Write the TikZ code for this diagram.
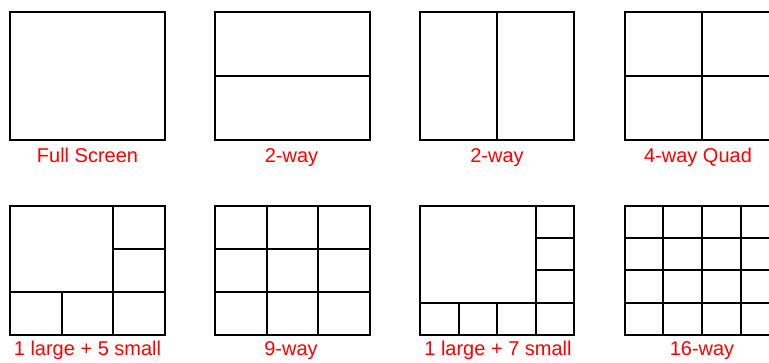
\documentclass[tikz,border=0pt]{standalone}
\usepackage{fontspec}
\setmainfont{Liberation Sans}
\definecolor{labelred}{RGB}{255,0,0}
\tikzset{
  screen/.style={draw=black,line width=2pt,fill=white},
  divider/.style={draw=black,line width=2pt},
  caption/.style={text=labelred,font=\fontsize{20}{22}\selectfont,anchor=base,inner sep=0pt}
}
\begin{document}
\begin{tikzpicture}[x=1pt,y=-1pt]
\useasboundingbox (0,0) rectangle (769,363);
\clip (0,0) rectangle (769,363);
% Row 1
% Full screen
\draw[screen] (10,12) rectangle (165,140);
\node[caption] (l1) at (87.5,162.5) {Full Screen};
% 2-way horizontal
\draw[screen] (215,12) rectangle (369.5,140);
\draw[divider] (215,76.5) -- (369.5,76.5);
\node[caption] (l2) at (291.5,162.5) {2-way};
% 2-way vertical
\draw[screen] (420,12) rectangle (574,140);
\draw[divider] (497,12) -- (497,140);
\node[caption] (l3) at (497,162.5) {2-way};
% 4-way quad
\draw[screen] (624.5,12) rectangle (779.5,140);
\draw[divider] (702,12) -- (702,140);
\draw[divider] (624.5,76.5) -- (779.5,76.5);
\node[caption] (l4) at (698,162.5) {4-way Quad};
% Row 2
% 1 large + 5 small
\draw[screen] (10,206) rectangle (165,335);
\draw[divider] (113.3,206) -- (113.3,335);
\draw[divider] (10,292) -- (165,292);
\draw[divider] (113.3,249) -- (165,249);
\draw[divider] (61.7,292) -- (61.7,335);
\node[caption] (l5) at (87.5,355.5) {1 large + 5 small};
% 9-way
\draw[screen] (215,206) rectangle (369.5,335);
\foreach \xx in {266.5,318} {\draw[divider] (\xx,206) -- (\xx,335);}
\foreach \yy in {249,292} {\draw[divider] (215,\yy) -- (369.5,\yy);}
\node[caption] (l6) at (291,355.5) {9-way};
% 1 large + 7 small
\draw[screen] (420,206) rectangle (574,335);
\draw[divider] (535.5,206) -- (535.5,335);
\draw[divider] (420,302.7) -- (574,302.7);
\draw[divider] (535.5,238.2) -- (574,238.2);
\draw[divider] (535.5,270.5) -- (574,270.5);
\draw[divider] (458.5,302.7) -- (458.5,335);
\draw[divider] (497,302.7) -- (497,335);
\node[caption] (l7) at (498,355.5) {1 large + 7 small};
% 16-way
\draw[screen] (624.5,206) rectangle (779.5,335);
\foreach \xx in {663.2,702,740.7} {\draw[divider] (\xx,206) -- (\xx,335);}
\foreach \yy in {238.2,270.5,302.7} {\draw[divider] (624.5,\yy) -- (779.5,\yy);}
\node[caption] (l8) at (702,355.5) {16-way};
\end{tikzpicture}
\end{document}
